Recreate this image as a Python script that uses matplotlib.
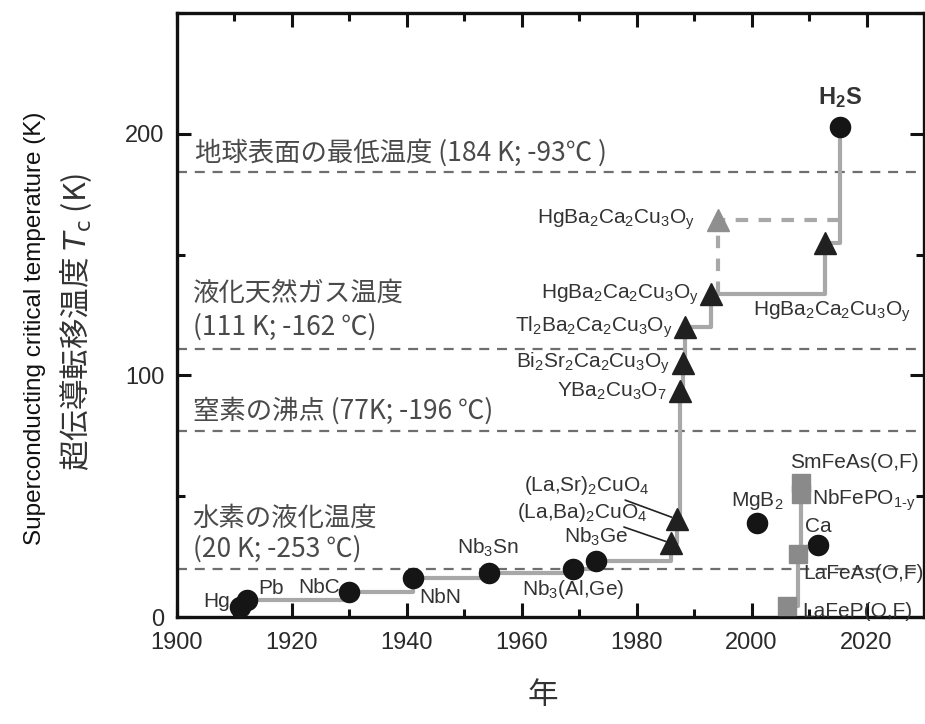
import matplotlib
matplotlib.use('Agg')
import matplotlib.pyplot as plt
from matplotlib.ticker import MultipleLocator

plt.rcParams['font.family'] = ['Liberation Sans', 'Noto Sans CJK JP', 'DejaVu Sans']
plt.rcParams['mathtext.default'] = 'regular'

# main record line (conventional + cuprates + hydride)
names = ['Hg', 'Pb', 'NbC', 'NbN', 'Nb$_3$Sn', 'Nb$_3$(Al,Ge)', 'Nb$_3$Ge',
         '(La,Ba)$_2$CuO$_4$', '(La,Sr)$_2$CuO$_4$', 'YBa$_2$Cu$_3$O$_7$',
         'Bi$_2$Sr$_2$Ca$_2$Cu$_3$O$_y$', 'Tl$_2$Ba$_2$Ca$_2$Cu$_3$O$_y$',
         'HgBa$_2$Ca$_2$Cu$_3$O$_y$', 'HgBa$_2$Ca$_2$Cu$_3$O$_y$', 'H$_2$S']
years = [1911, 1912.2, 1930, 1941, 1954.3, 1969, 1973, 1986, 1987, 1987.6, 1988, 1988.4, 1993, 2012.8, 2015.4]
tc = [4.2, 7.2, 10.3, 16, 18.2, 19.8, 23, 30.5, 40.5, 93.5, 105, 120, 133.5, 155, 203]
kind = ['o', 'o', 'o', 'o', 'o', 'o', 'o', '^', '^', '^', '^', '^', '^', '^', 'o']

# Hg-1223 under pressure (dashed branch)
hgp_year = 1994.2
hgp_tc = 164.5

# other families
other_names = ['MgB$_2$', 'Ca']
other_years = [2001, 2011.5]
other_tc = [39, 30]

fe_names = ['LaFeP(O,F)', 'LaFeAs(O,F)', 'NbFePO$_{1\u2010y}$', 'SmFeAs(O,F)']
fe_years = [2006.2, 2008.1, 2008.6, 2008.6]
fe_tc = [4.5, 26, 51, 55.5]

# reference temperatures
ref_tc = [184, 111, 77, 20]

fig = plt.figure(figsize=(9.25, 7.24), dpi=100)
ax = fig.add_axes([177/925, 1-617/724, (924-177)/925, (617-13)/724])
ax.set_xlim(1900, 2030)
ax.set_ylim(0, 250)

for r in ref_tc:
    ax.axhline(r, color='#6e6e6e', lw=1.6, ls=(0, (4.5, 3.5)), zorder=1)

line_c = '#a8a8a8'
ax.step(years, tc, where='post', color=line_c, lw=3, zorder=2)
ax.plot([hgp_year, hgp_year, years[-1]], [tc[12], hgp_tc, hgp_tc], color=line_c, lw=3,
        ls=(0, (3, 2.5)), zorder=2)
ax.step(fe_years, fe_tc, where='post', color=line_c, lw=3, zorder=2)

for x, y, m in zip(years, tc, kind):
    if m == 'o':
        ax.plot(x, y, 'o', ms=14.5, color='#151515', zorder=3)
    else:
        ax.plot(x, y, '^', ms=16, color='#202020', zorder=3)
ax.plot(hgp_year, hgp_tc, '^', ms=16, color='#8f8f8f', zorder=3)
ax.plot(other_years, other_tc, 'o', ms=14.5, color='#151515', zorder=3, ls='none')
ax.plot(fe_years, fe_tc, 's', ms=13.5, color='#8a8a8a', zorder=3, ls='none')

lab = dict(fontsize=15, color='#333333')
# (dx, dy, ha) offsets in points for each record label
offs = [(-7, 4, 'right'), (8, 8, 'left'), (-7, 3, 'right'), (5, -14, 'left'),
        (-1, 18, 'center'), (0, -15, 'center'), (0, 18, 'center'),
        None, None, (-10, 0, 'right'), (-9, 0, 'right'), (-9, 0, 'right'),
        (-9, 0, 'right'), (5, -50, 'center'), None]
for n, x, y, o in zip(names, years, tc, offs):
    if o is None:
        continue
    ax.annotate(n, (x, y), xytext=(o[0], o[1]), textcoords='offset points',
                ha=o[2], va='center', **lab)
ax.annotate(names[7], (years[7], tc[7]), xytext=(-17, 22), textcoords='offset points',
            ha='right', va='center', arrowprops=dict(arrowstyle='-', color='#222222', lw=1.2,
            shrinkA=0, shrinkB=4), **lab)
ax.annotate(names[8], (years[8], tc[8]), xytext=(-20, 24), textcoords='offset points',
            ha='right', va='center', arrowprops=dict(arrowstyle='-', color='#222222', lw=1.2,
            shrinkA=0, shrinkB=4), **lab)
ax.annotate(names[14], (years[14], tc[14]), xytext=(0, 21), textcoords='offset points',
            ha='center', va='center', fontsize=17, fontweight='bold', color='#333333')
ax.annotate('HgBa$_2$Ca$_2$Cu$_3$O$_y$', (hgp_year, hgp_tc), xytext=(-17, 0),
            textcoords='offset points', ha='right', va='center', **lab)

ax.annotate(other_names[0], (other_years[0], other_tc[0]), xytext=(0, 16),
            textcoords='offset points', ha='center', va='center', **lab)
ax.annotate(other_names[1], (other_years[1], other_tc[1]), xytext=(-9, 13),
            textcoords='offset points', ha='left', va='center', **lab)
fe_offs = [(11, -4), (4, -14), (8, -5), (-8, 15)]
for n, x, y, o in zip(fe_names, fe_years, fe_tc, fe_offs):
    ax.annotate(n, (x, y), xytext=o, textcoords='offset points', ha='left', va='center', **lab)

jp = dict(fontsize=19, color='#4a4a4a', family=['Noto Sans CJK JP'], va='center', ha='left',
          transform=ax.get_yaxis_transform())
ax.text(0.024, 192, '地球表面の最低温度 (184 K; -93\u2103 )', **jp)
ax.text(0.021, 134, '液化天然ガス温度', **jp)
ax.text(0.021, 120, '(111 K; -162 \u2103)', **jp)
ax.text(0.021, 85.5, '窒素の沸点 (77K; -196 \u2103)', **jp)
ax.text(0.021, 41, '水素の液化温度', **jp)
ax.text(0.021, 28, '(20 K; -253 \u2103)', **jp)

ax.xaxis.set_major_locator(MultipleLocator(20))
ax.xaxis.set_minor_locator(MultipleLocator(10))
ax.yaxis.set_major_locator(MultipleLocator(100))
ax.yaxis.set_minor_locator(MultipleLocator(50))
ax.tick_params(which='both', direction='in', top=True, right=True, width=2.2, color='#111111',
               labelsize=17, labelcolor='#2a2a2a')
ax.tick_params(axis='x', pad=11)
ax.tick_params(axis='y', pad=9)
ax.tick_params(which='major', length=10)
ax.tick_params(which='minor', length=6)
for s in ax.spines.values():
    s.set_linewidth(2.4)
    s.set_color('#111111')

fig.text(35/925, 1-328/724, 'Superconducting critical temperature (K)', rotation=90,
         ha='center', va='center', fontsize=17.5, color='#111111')
fig.text(76/925, 1-322/724, '超伝導転移温度 $\\mathit{T}_{\\mathrm{c}}$ (K)', rotation=90,
         ha='center', va='center', fontsize=22, color='#333333',
         family=['Noto Sans CJK JP', 'DejaVu Sans'])
fig.text(543/925, 1-695/724, '年', ha='center', va='center', fontsize=22, color='#333333',
         family=['Noto Sans CJK JP'])

fig.savefig('out.png', dpi=100)
